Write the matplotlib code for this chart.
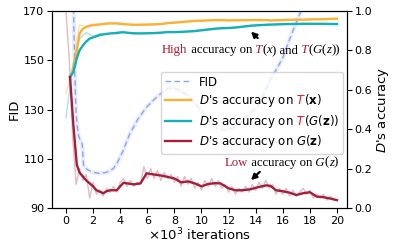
import matplotlib
matplotlib.use('Agg')
import matplotlib.pyplot as plt
from matplotlib.offsetbox import TextArea, HPacker, AnnotationBbox

# valores (x em milhares de iteracoes)
fid_x = [0.45, 0.55, 0.65, 0.75, 0.9, 1.05, 1.2, 1.3, 1.6, 2.0, 2.5, 3.0, 3.5, 3.75, 4.2, 4.7, 5.3,
         5.95, 6.5, 6.9, 7.5, 7.9, 8.5, 9.15, 9.6, 10.1, 10.6, 11.1, 11.7, 12.3, 12.8, 13.5, 14.1,
         14.6, 15.06, 15.5, 16.0, 16.4, 16.75, 17.2, 17.5, 18.0]
fid = [260, 175, 145, 128, 120, 117.5, 116, 107, 105.5, 104.5, 104, 104.5, 106, 108, 113, 120, 126,
       131, 134, 136, 138.5, 139, 137.5, 135, 132, 128.6, 125, 122.4, 121.7, 122.5, 124.5, 128, 131,
       136, 142, 146, 151, 157, 162, 168, 172, 178]

smooth_x = [0.3, 0.55, 0.8, 1.0, 1.25, 1.5, 1.75, 2.0, 2.25, 2.5, 2.75, 3.0, 3.25, 3.5, 3.75, 4.0, 4.25,
            4.5, 5.0, 5.5, 5.95, 6.5, 7.0, 7.5, 8.0, 8.5, 9.0, 9.5, 10.0, 10.5, 11.0, 11.4, 12.0, 12.5,
            13.0, 13.6, 14.2, 14.8, 15.1, 15.5, 16.0, 16.5, 17.0, 17.5, 18.0, 18.5, 19.0, 19.5, 20.0]
acc_tx = [0.665, 0.70, 0.80, 0.885, 0.91, 0.92, 0.925, 0.928, 0.93, 0.932, 0.934, 0.936, 0.937, 0.937,
          0.937, 0.935, 0.933, 0.932, 0.93, 0.93, 0.931, 0.932, 0.934, 0.938, 0.941, 0.944, 0.947,
          0.95, 0.951, 0.952, 0.954, 0.954, 0.952, 0.953, 0.953, 0.954, 0.954, 0.954, 0.952, 0.953,
          0.954, 0.955, 0.956, 0.956, 0.957, 0.958, 0.958, 0.96, 0.961]
acc_tgz = [0.665, 0.69, 0.76, 0.80, 0.825, 0.845, 0.86, 0.866, 0.872, 0.878, 0.881, 0.884, 0.886,
           0.887, 0.888, 0.891, 0.892, 0.89, 0.887, 0.886, 0.887, 0.888, 0.89, 0.893, 0.893, 0.894,
           0.896, 0.898, 0.902, 0.906, 0.91, 0.912, 0.914, 0.916, 0.92, 0.925, 0.928, 0.93, 0.931,
           0.932, 0.933, 0.934, 0.934, 0.935, 0.935, 0.935, 0.935, 0.934, 0.934]
acc_gz = [0.665, 0.42, 0.22, 0.18, 0.16, 0.14, 0.125, 0.11, 0.09, 0.083, 0.075, 0.085, 0.09, 0.09,
          0.09, 0.11, 0.128, 0.125, 0.12, 0.125, 0.176, 0.17, 0.165, 0.158, 0.15, 0.13, 0.135,
          0.125, 0.11, 0.122, 0.126, 0.125, 0.1, 0.09, 0.09, 0.095, 0.106, 0.115, 0.112, 0.09,
          0.085, 0.078, 0.066, 0.075, 0.08, 0.058, 0.055, 0.048, 0.04]

raw_x = [i * 0.25 for i in range(81)]
raw_gz = [1.0, 0.75, 0.35, 0.12, 0.2, 0.14, 0.17, 0.05, 0.13, 0.07, 0.09, 0.06, 0.1, 0.08, 0.11, 0.08,
          0.13, 0.15, 0.11, 0.14, 0.11, 0.13, 0.12, 0.21, 0.15, 0.2, 0.15, 0.19, 0.14, 0.18, 0.15,
          0.17, 0.13, 0.16, 0.11, 0.16, 0.12, 0.15, 0.1, 0.13, 0.09, 0.14, 0.11, 0.15, 0.11, 0.14,
          0.1, 0.12, 0.08, 0.11, 0.07, 0.1, 0.08, 0.11, 0.08, 0.12, 0.09, 0.13, 0.1, 0.14, 0.1, 0.12,
          0.07, 0.1, 0.07, 0.1, 0.06, 0.09, 0.06, 0.08, 0.1, 0.07, 0.09, 0.05, 0.07, 0.05, 0.07,
          0.04, 0.06, 0.04, 0.04]
raw_x2 = [i * 0.5 for i in range(41)]
raw_tx = [0.58, 0.72, 0.93, 0.92, 0.935, 0.93, 0.94, 0.935, 0.94, 0.932, 0.928, 0.934, 0.93, 0.935,
          0.933, 0.94, 0.938, 0.945, 0.944, 0.95, 0.948, 0.955, 0.952, 0.95, 0.955, 0.953, 0.955,
          0.952, 0.956, 0.951, 0.955, 0.953, 0.957, 0.955, 0.958, 0.956, 0.96, 0.957, 0.96, 0.958, 0.962]
raw_tgz = [0.46, 0.72, 0.86, 0.89, 0.872, 0.885, 0.882, 0.89, 0.895, 0.888, 0.884, 0.89, 0.885, 0.89,
           0.888, 0.895, 0.892, 0.896, 0.895, 0.9, 0.905, 0.908, 0.912, 0.915, 0.913, 0.918, 0.922,
           0.925, 0.928, 0.93, 0.932, 0.93, 0.935, 0.933, 0.936, 0.933, 0.936, 0.934, 0.936, 0.933, 0.935]

c_fid = '#8fa6ee'
c_tx = '#f9b233'
c_tgz = '#14afb8'
c_gz = '#a31f3a'
c_hl = '#b0182f'

fig = plt.figure(figsize=(3.99, 2.48), dpi=100)
ax1 = fig.add_axes([0.1303, 0.1613, 0.7394, 0.7943])
ax2 = ax1.twinx()

# FID (eixo esquerdo)
ax1.plot(fid_x, fid, color=c_fid, lw=3, alpha=0.2)
l_fid, = ax1.plot(fid_x, fid, color=c_fid, lw=1, ls='--', dashes=(4, 2.5), label='FID')
ax1.set_ylim(90, 170)
ax1.set_yticks([90, 110, 130, 150, 170])
ax1.set_xlim(-1.03, 20.74)
ax1.set_xticks(range(0, 21, 2))
ax1.set_ylabel('FID', fontsize=9.5, labelpad=2)
ax1.set_xlabel(r'$\times 10^3$ iterations', fontsize=9.5, labelpad=1)
ax1.tick_params(labelsize=8, pad=2)

# acuracias (eixo direito)
ax2.plot(raw_x2, raw_tx, color=c_tx, lw=1, alpha=0.35)
ax2.plot(raw_x2, raw_tgz, color=c_tgz, lw=1, alpha=0.35)
ax2.plot(raw_x, raw_gz, color=c_gz, lw=1, alpha=0.3)
l_tx, = ax2.plot(smooth_x, acc_tx, color=c_tx, lw=1.7)
l_tgz, = ax2.plot(smooth_x, acc_tgz, color=c_tgz, lw=1.7)
l_gz, = ax2.plot(smooth_x, acc_gz, color=c_gz, lw=1.7)
ax2.set_ylim(0, 1)
ax2.set_yticks([0.0, 0.2, 0.4, 0.6, 0.8, 1.0])
ax2.set_ylabel("$D$'s accuracy", fontsize=9.5, labelpad=2)
ax2.tick_params(labelsize=8, pad=2)

fs = 8.5
leg = ax2.legend([l_fid, l_tx, l_tgz, l_gz],
                 ['FID', 'tx', 'tgz', "$D$'s accuracy on $G(\\mathbf{z})$"],
                 loc='upper right', bbox_to_anchor=(0.987, 0.69), borderaxespad=0,
                 fontsize=fs, handlelength=2.2, handletextpad=0.7, labelspacing=0.3,
                 borderpad=0.3)

# legenda com o T em vermelho
red_t = '#e02020'
parts = {1: [("$D$'s accuracy on", 'k', 'normal'), (' T', red_t, 'italic'),
             ('($\\mathbf{x}$)', 'k', 'normal')],
         2: [("$D$'s accuracy on", 'k', 'normal'), (' T', red_t, 'italic'),
             ('($G$($\\mathbf{z}$))', 'k', 'normal')]}
rows = leg._legend_handle_box.get_children()[0].get_children()
for i, pieces in parts.items():
    boxes = [TextArea(t, textprops=dict(color=c, fontsize=fs, style=s, va='baseline'))
             for t, c, s in pieces]
    hp = HPacker(children=boxes, pad=0, sep=0, align='baseline')
    hp.set_figure(fig)
    rows[i]._children[1] = hp


def note(pieces, xy):
    boxes = [TextArea(t, textprops=dict(color=c, fontsize=9.2, family='Liberation Serif',
                                        style=s, va='baseline'))
             for t, c, s in pieces]
    hp = HPacker(children=boxes, pad=0, sep=0, align='baseline')
    ab = AnnotationBbox(hp, xy, xycoords='data', frameon=False, box_alignment=(0.5, 0.5))
    ax2.add_artist(ab)


n, i = 'normal', 'italic'
note([('High', c_hl, n), (' accuracy on', 'k', n), (' T', c_hl, i), ('(', 'k', n), ('x', 'k', i),
      (') and', 'k', n), (' T', c_hl, i), ('(', 'k', n), ('G', 'k', i), ('(', 'k', n),
      ('z', 'k', i), ('))', 'k', n)], (13.65, 0.80))
note([('Low', c_hl, n), (' accuracy on', 'k', n), (' G', 'k', i), ('(', 'k', n), ('z', 'k', i),
      (')', 'k', n)], (15.9, 0.23))

ax2.annotate('', xy=(13.5, 0.905), xytext=(14.3, 0.853),
             arrowprops=dict(arrowstyle='-|>', color='k', lw=1.6, mutation_scale=8))
ax2.annotate('', xy=(13.5, 0.132), xytext=(14.45, 0.193),
             arrowprops=dict(arrowstyle='-|>', color='k', lw=1.6, mutation_scale=8))

plt.savefig('out.png', dpi=100)
